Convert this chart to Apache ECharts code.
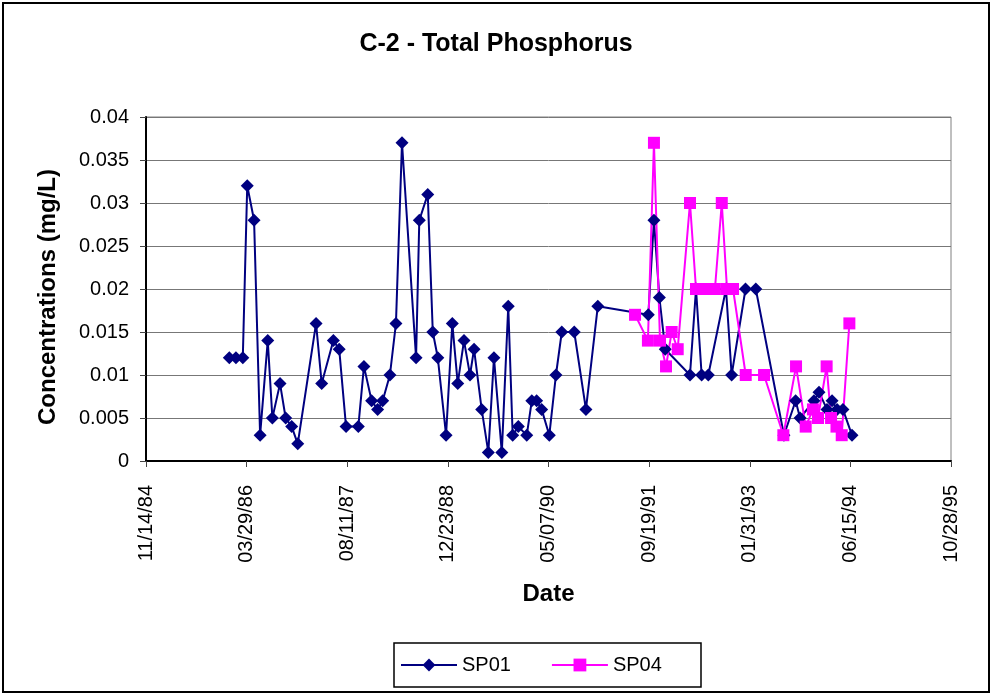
<!DOCTYPE html>
<html>
<head>
<meta charset="utf-8">
<title>C-2 - Total Phosphorus</title>
<script src="https://cdn.jsdelivr.net/npm/echarts@6/dist/echarts.min.js"></script>
<style>
  html, body { margin: 0; padding: 0; background: #fff; }
  #chart { width: 992px; height: 695px; }
</style>
</head>
<body>
<div id="chart"></div>
<script>
// sample dates are spreadsheet day serials (day 1 = 01/01/1900)
const sp01Days = [
  31414, 31447, 31481, 31503, 31537, 31567, 31605, 31628, 31666, 31694,
  31724, 31754, 31845, 31873, 31931, 31960, 31994, 32055, 32083, 32121,
  32151, 32176, 32212, 32242, 32272, 32342, 32358, 32400, 32425, 32450,
  32491, 32522, 32549, 32580, 32610, 32630, 32668, 32701, 32729, 32768,
  32800, 32822, 32850, 32892, 32917, 32941, 32966, 33004, 33037, 33066,
  33128, 33186, 33245, 33496, 33524, 33551, 33580, 33703, 33733, 33761,
  33794, 33882, 33910, 33979, 34030, 34170, 34228, 34250, 34319, 34344,
  34384, 34409, 34434, 34463, 34508
];
const sp01Values = [
  0.012, 0.012, 0.012, 0.032, 0.028, 0.003, 0.014, 0.005, 0.009, 0.005,
  0.004, 0.002, 0.016, 0.009, 0.014, 0.013, 0.004, 0.004, 0.011, 0.007,
  0.006, 0.007, 0.010, 0.016, 0.037, 0.012, 0.028, 0.031, 0.015, 0.012,
  0.003, 0.016, 0.009, 0.014, 0.010, 0.013, 0.006, 0.001, 0.012, 0.001,
  0.018, 0.003, 0.004, 0.003, 0.007, 0.007, 0.006, 0.003, 0.010, 0.015,
  0.015, 0.006, 0.018, 0.017, 0.028, 0.019, 0.013, 0.010, 0.020, 0.010,
  0.010, 0.020, 0.010, 0.020, 0.020, 0.003, 0.007, 0.005, 0.007, 0.008,
  0.006, 0.007, 0.006, 0.006, 0.003
];

const sp04Days = [
  33430, 33494, 33524, 33554, 33584, 33612, 33642, 33703, 33733, 33768,
  33798, 33827, 33861, 33887, 33917, 33980, 34071, 34167, 34230, 34278,
  34314, 34339, 34382, 34404, 34431, 34457, 34495
];
const sp04Values = [
  0.017, 0.014, 0.037, 0.014, 0.011, 0.015, 0.013, 0.030, 0.020, 0.020,
  0.020, 0.020, 0.030, 0.020, 0.020, 0.010, 0.010, 0.003, 0.011, 0.004,
  0.006, 0.005, 0.011, 0.005, 0.004, 0.003, 0.016
];

const FONT = '"Liberation Sans", Arial, sans-serif';

function serialToLabel(v) {
  const d = new Date(Date.UTC(1899, 11, 30) + v * 86400000);
  const pad = n => String(n).padStart(2, '0');
  return pad(d.getUTCMonth() + 1) + '/' + pad(d.getUTCDate()) + '/' + pad(d.getUTCFullYear() % 100);
}

function pairs(days, values) {
  return days.map((d, i) => [d, values[i]]);
}

const chart = echarts.init(document.getElementById('chart'));
chart.setOption({
  animation: false,
  backgroundColor: '#fff',
  textStyle: { fontFamily: FONT, color: '#000' },
  title: {
    text: 'C-2 - Total Phosphorus',
    left: 'center',
    top: 27,
    textStyle: { fontFamily: FONT, fontSize: 25, fontWeight: 'bold', color: '#000' }
  },
  grid: {
    left: 146, right: 41, top: 117, bottom: 234,
    show: true, borderColor: '#808080', borderWidth: 1
  },
  xAxis: {
    type: 'value',
    min: 31000, max: 35000, interval: 500,
    name: 'Date',
    nameLocation: 'middle',
    nameGap: 121,
    nameTextStyle: { fontFamily: FONT, fontSize: 24, fontWeight: 'bold', color: '#000' },
    axisLine: { lineStyle: { color: '#000', width: 2 } },
    axisTick: { length: 6, lineStyle: { color: '#444', width: 1 } },
    axisLabel: {
      rotate: 90, margin: 24, fontSize: 20, color: '#000', fontFamily: FONT,
      formatter: serialToLabel
    },
    splitLine: { show: false }
  },
  yAxis: {
    type: 'value',
    min: 0, max: 0.04, interval: 0.005,
    axisLine: { show: true, lineStyle: { color: '#000', width: 2 } },
    axisTick: { show: true, length: 6, lineStyle: { color: '#444', width: 1 } },
    axisLabel: {
      margin: 17, fontSize: 20, color: '#000', fontFamily: FONT,
      formatter: v => String(+v.toFixed(3))
    },
    splitLine: { lineStyle: { color: '#777', width: 1 } }
  },
  legend: {
    data: ['SP01', 'SP04'],
    left: 400, top: 655,
    padding: 0,
    itemWidth: 56, itemHeight: 16, itemGap: 40,
    textStyle: { fontFamily: FONT, fontSize: 20, color: '#000' }
  },
  graphic: [
    {
      type: 'rect', silent: true,
      shape: { x: 3, y: 3, width: 986, height: 689 },
      style: { fill: 'none', stroke: '#000', lineWidth: 2 }
    },
    {
      type: 'rect', silent: true,
      shape: { x: 394, y: 643, width: 307, height: 44 },
      style: { fill: 'none', stroke: '#000', lineWidth: 1.5 }
    },
    {
      type: 'text', silent: true,
      x: 48, y: 297, rotation: Math.PI / 2,
      style: {
        text: 'Concentrations (mg/L)',
        fontFamily: FONT, fontSize: 24, fontWeight: 'bold', fill: '#000',
        align: 'center', verticalAlign: 'middle'
      }
    }
  ],
  series: [
    {
      name: 'SP01',
      type: 'line',
      data: pairs(sp01Days, sp01Values),
      symbol: 'diamond',
      symbolSize: 13,
      showAllSymbol: true,
      color: '#000080',
      lineStyle: { color: '#000080', width: 2 },
      itemStyle: { color: '#000080' }
    },
    {
      name: 'SP04',
      type: 'line',
      data: pairs(sp04Days, sp04Values),
      symbol: 'rect',
      symbolSize: 12,
      showAllSymbol: true,
      color: '#FF00FF',
      lineStyle: { color: '#FF00FF', width: 2 },
      itemStyle: { color: '#FF00FF' }
    }
  ]
});
</script>
</body>
</html>
